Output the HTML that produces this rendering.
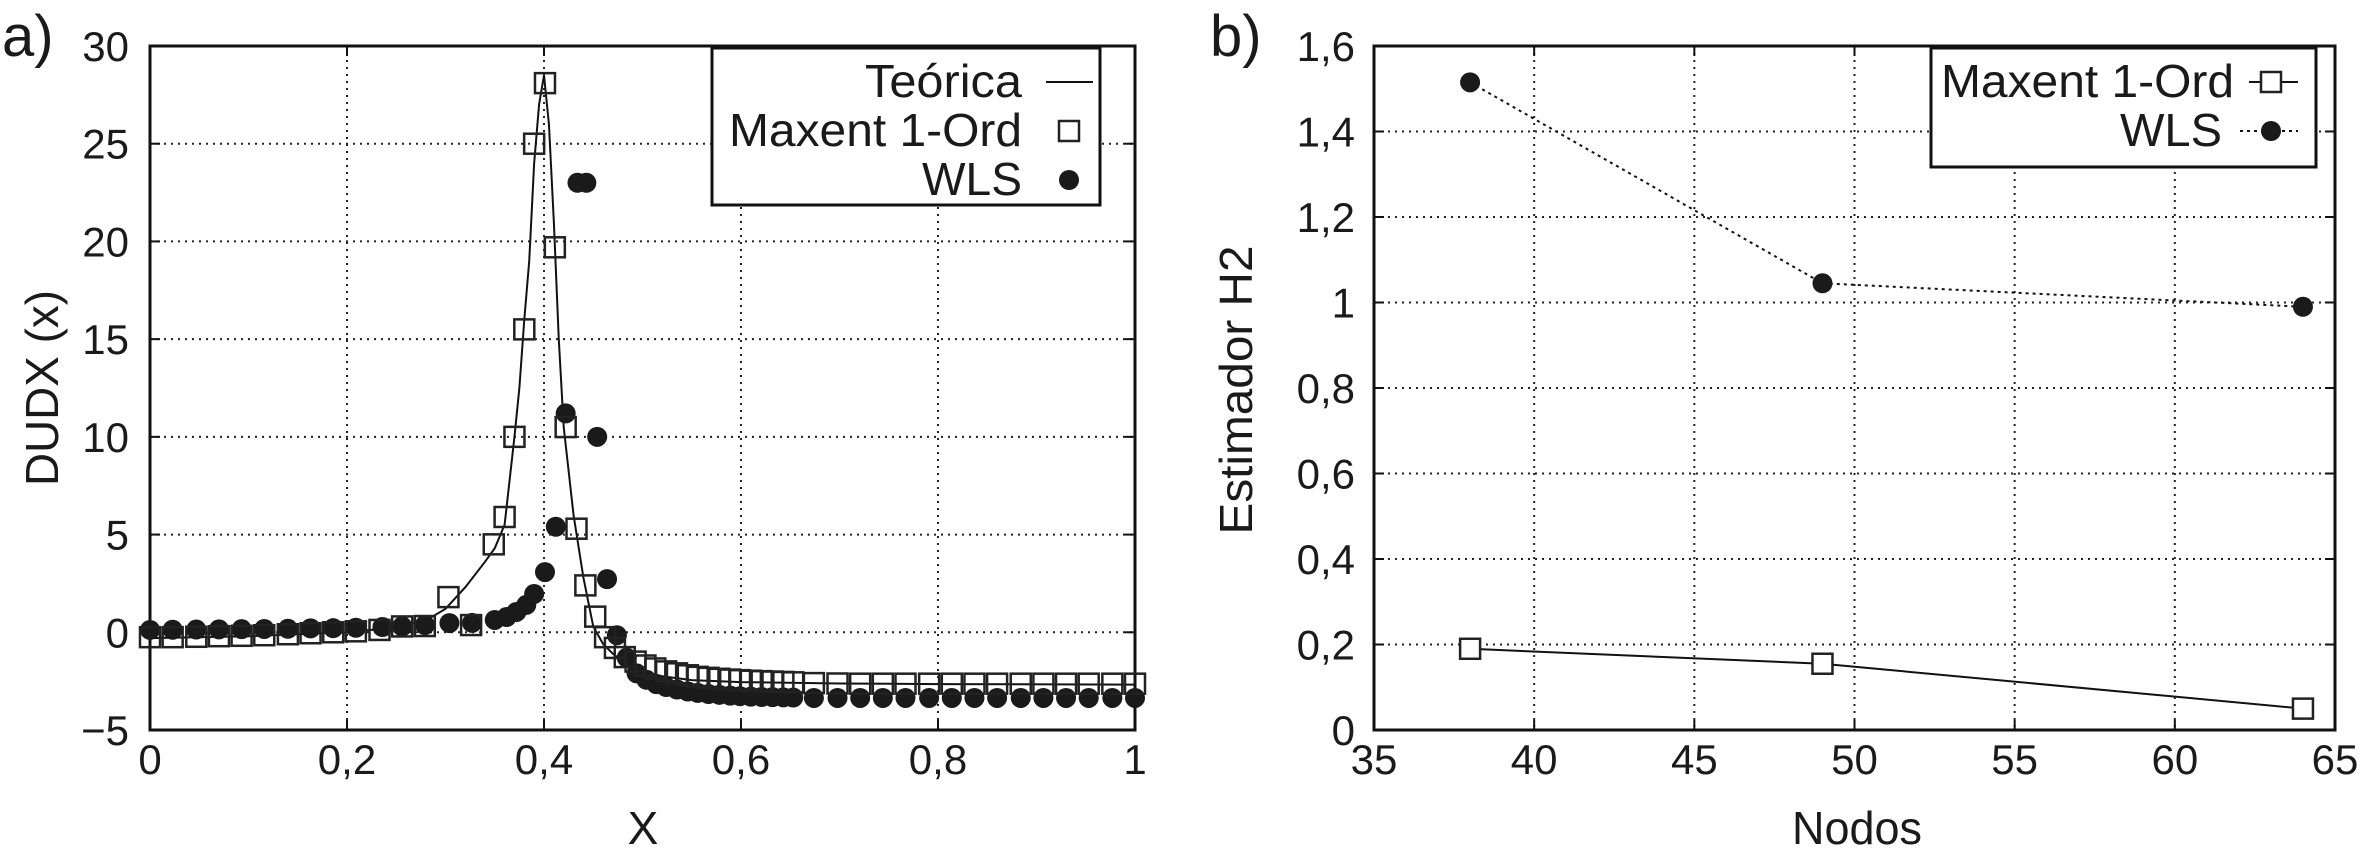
<!DOCTYPE html>
<html><head><meta charset="utf-8"><style>
html,body{margin:0;padding:0;background:#fff;}
svg{display:block;font-family:"Liberation Sans",sans-serif;}
</style></head><body>
<svg id="fig" width="2361" height="854" viewBox="0 0 2361 854" xmlns="http://www.w3.org/2000/svg"></svg>
<script>
// ---------- Chart a data ----------
const aXTicks = [0, 0.2, 0.4, 0.6, 0.8, 1];
const aXTickLabels = ["0", "0,2", "0,4", "0,6", "0,8", "1"];
const aYTicks = [-5, 0, 5, 10, 15, 20, 25, 30];
const aYTickLabels = ["\u22125", "0", "5", "10", "15", "20", "25", "30"];
const theoX = [0, 0.1, 0.2, 0.25, 0.28, 0.3, 0.32, 0.34, 0.35, 0.36, 0.37, 0.375, 0.38, 0.385, 0.39, 0.395, 0.4, 0.405, 0.41, 0.415, 0.42, 0.43, 0.44, 0.45, 0.46, 0.47, 0.48, 0.5, 0.52, 0.55, 0.6, 0.7, 0.8, 1.0];
const theoY = [-0.3, -0.2, 0.0, 0.25, 0.6, 1.2, 2.3, 3.6, 4.3, 5.5, 10, 12.5, 16, 19, 24, 27, 28.5, 26, 21, 15, 10.5, 6, 2.8, 0.3, -0.6, -1.1, -1.5, -2.0, -2.25, -2.45, -2.55, -2.62, -2.65, -2.68];
const maxX = [0, .023, .047, .070, .093, .116, .140, .163, .186, .209, .233, .256, .279, .303, .326, .349, .360, .370, .380, .390, .401, .411, .422, .433, .442, .452, .462, .472, .482, .493, .503, .513, .524, .535, .546, .556, .567, .578, .589, .599, .610, .621, .632, .643, .653, .674, .698, .721, .744, .767, .791, .814, .837, .860, .884, .907, .930, .953, .977, 1.0];
const maxY = [-.25, -.25, -.23, -.2, -.18, -.15, -.1, -.05, 0, .05, .12, .3, .32, 1.8, .37, 4.5, 5.9, 10, 15.5, 25, 28.1, 19.7, 10.5, 5.3, 2.4, .8, -.25, -.8, -1.27, -1.5, -1.7, -1.85, -2.0, -2.1, -2.2, -2.28, -2.33, -2.38, -2.42, -2.45, -2.48, -2.5, -2.52, -2.54, -2.56, -2.6, -2.62, -2.63, -2.63, -2.63, -2.63, -2.63, -2.63, -2.63, -2.63, -2.63, -2.63, -2.63, -2.63, -2.63];
const wlsX = [0, .023, .047, .070, .093, .116, .140, .163, .186, .209, .236, .256, .279, .304, .327, .350, .362, .372, .382, .390, .401, .412, .422, .434, .443, .454, .464, .474, .484, .494, .504, .514, .524, .535, .546, .556, .567, .578, .589, .599, .610, .621, .632, .643, .653, .674, .698, .721, .744, .767, .791, .814, .837, .860, .884, .907, .930, .953, .977, 1.0];
const wlsY = [.12, .13, .14, .15, .16, .17, .18, .2, .21, .23, .27, .3, .37, .47, .48, .63, .78, 1.04, 1.4, 1.96, 3.08, 5.4, 11.2, 23, 23, 10, 2.72, -.15, -1.3, -2.1, -2.43, -2.65, -2.8, -2.93, -3.03, -3.1, -3.16, -3.2, -3.24, -3.27, -3.29, -3.31, -3.32, -3.33, -3.34, -3.36, -3.36, -3.36, -3.36, -3.36, -3.36, -3.36, -3.36, -3.36, -3.36, -3.36, -3.36, -3.36, -3.36, -3.36];
// ---------- Chart b data ----------
const bXTicks = [35, 40, 45, 50, 55, 60, 65];
const bXTickLabels = ["35", "40", "45", "50", "55", "60", "65"];
const bYTicks = [0, 0.2, 0.4, 0.6, 0.8, 1, 1.2, 1.4, 1.6];
const bYTickLabels = ["0", "0,2", "0,4", "0,6", "0,8", "1", "1,2", "1,4", "1,6"];
const nodos = [38, 49, 64];
const bMaxent = [0.19, 0.155, 0.05];
const bWls = [1.515, 1.045, 0.99];

const NS = "http://www.w3.org/2000/svg";
const svg = document.getElementById("fig");
function mk(tag, attrs, parent) {
  const e = document.createElementNS(NS, tag);
  for (const k in attrs) e.setAttribute(k, attrs[k]);
  (parent || svg).appendChild(e);
  return e;
}
function txt(s, x, y, size, anchor, parent, len) {
  const t = mk("text", {x: x, y: y, "font-size": size, "text-anchor": anchor || "start", fill: "#1a1a1a"}, parent);
  if (len) { t.setAttribute("textLength", len); t.setAttribute("lengthAdjust", "spacingAndGlyphs"); }
  t.textContent = s;
  return t;
}
function axes(L, R, T, B, xmin, xmax, ymin, ymax) {
  return {
    sx: v => L + (v - xmin) / (xmax - xmin) * (R - L),
    sy: v => B - (v - ymin) / (ymax - ymin) * (B - T)
  };
}
function frame(g, L, R, T, B, xt, xl, yt, yl, ax, yLabelRight) {
  xt.forEach((v, i) => {
    const x = ax.sx(v);
    if (i > 0 && i < xt.length - 1) {
      const gl = mk("line", {x1: x, x2: x, y1: T, y2: B, stroke: "#222", "stroke-width": 2, "stroke-dasharray": "2 5"}, g);
      
      
    }
    mk("line", {x1: x, x2: x, y1: B, y2: B - 10, stroke: "#111", "stroke-width": 2}, g);
    mk("line", {x1: x, x2: x, y1: T, y2: T + 10, stroke: "#111", "stroke-width": 2}, g);
    const t = txt(xl[i], x, 774, 42, "middle", g);
    
    
  });
  yt.forEach((v, i) => {
    const y = ax.sy(v);
    if (i > 0 && i < yt.length - 1) {
      const gl = mk("line", {x1: L, x2: R, y1: y, y2: y, stroke: "#222", "stroke-width": 2, "stroke-dasharray": "2 5"}, g);
      
      
    }
    mk("line", {x1: L, x2: L + 10, y1: y, y2: y, stroke: "#111", "stroke-width": 2}, g);
    mk("line", {x1: R, x2: R - 10, y1: y, y2: y, stroke: "#111", "stroke-width": 2}, g);
    const t = txt(yl[i], yLabelRight, y + 15, 42, "end", g);
    
    
  });
  const f = mk("rect", {x: L, y: T, width: R - L, height: B - T, fill: "none", stroke: "#111", "stroke-width": 3}, g);
  
  
}
function square(g, x, y) {
  return mk("rect", {x: x - 10, y: y - 10, width: 20, height: 20, fill: "none", stroke: "#222", "stroke-width": 2.5}, g);
}
function dot(g, x, y) {
  return mk("circle", {cx: x, cy: y, r: 10, fill: "#1a1a1a"}, g);
}

// ================= Chart a =================
const gA = mk("g", { });
const aL = 150, aR = 1135, aT = 46, aB = 730;
const A = axes(aL, aR, aT, aB, 0, 1, -5, 30);
frame(gA, aL, aR, aT, aB, aXTicks, aXTickLabels, aYTicks, aYTickLabels, A, 129);
const pa = txt("a)", 2, 56, 58, "start", gA);


const axa = txt("X", 643, 844, 46, "middle", gA);


const aya = txt("DUDX (x)", 0, 0, 46, "middle", gA, 196);
aya.setAttribute("transform", "translate(58,388) rotate(-90)");



const theoPts = theoX.map((v, i) => A.sx(v) + "," + A.sy(theoY[i])).join(" ");
const theo = mk("polyline", {points: theoPts, fill: "none", stroke: "#111", "stroke-width": 2}, gA);


wlsX.forEach((v, i) => {
  const c = dot(gA, A.sx(v), A.sy(wlsY[i]));
  
  
});
maxX.forEach((v, i) => {
  const s = square(gA, A.sx(v), A.sy(maxY[i]));
  
  
});
// legend a
const legA = mk("g", { }, gA);
mk("rect", {x: 712, y: 48, width: 388, height: 157, fill: "#fff", stroke: "#111", "stroke-width": 3}, legA);
const la1 = txt("Teórica", 1022, 97, 46, "end", legA, 157);


mk("line", {x1: 1046, x2: 1093, y1: 82, y2: 82, stroke: "#111", "stroke-width": 2}, legA);
const la2 = txt("Maxent 1-Ord", 1022, 146, 46, "end", legA, 293);


square(legA, 1069, 131);
const la3 = txt("WLS", 1022, 195, 46, "end", legA, 100);


dot(legA, 1069, 180);

// ================= Chart b =================
const gB = mk("g", { });
const bL = 1374, bR = 2335, bT = 46, bB = 730;
const Bx = axes(bL, bR, bT, bB, 35, 65, 0, 1.6);
frame(gB, bL, bR, bT, bB, bXTicks, bXTickLabels, bYTicks, bYTickLabels, Bx, 1355);
const pb = txt("b)", 1210, 56, 58, "start", gB);


const bxa = txt("Nodos", 1857, 844, 46, "middle", gB, 130);


const bya = txt("Estimador H2", 0, 0, 46, "middle", gB, 289);
bya.setAttribute("transform", "translate(1252,390) rotate(-90)");



const mLine = mk("polyline", {points: nodos.map((n, i) => Bx.sx(n) + "," + Bx.sy(bMaxent[i])).join(" "), fill: "none", stroke: "#111", "stroke-width": 2}, gB);


const wLine = mk("polyline", {points: nodos.map((n, i) => Bx.sx(n) + "," + Bx.sy(bWls[i])).join(" "), fill: "none", stroke: "#111", "stroke-width": 2, "stroke-dasharray": "3 4"}, gB);


nodos.forEach((n, i) => {
  const s = square(gB, Bx.sx(n), Bx.sy(bMaxent[i]));
  s.setAttribute("fill", "#fff");
  
  
  const c = dot(gB, Bx.sx(n), Bx.sy(bWls[i]));
  
  
});
// legend b
const legB = mk("g", { }, gB);
mk("rect", {x: 1931, y: 48, width: 385, height: 119, fill: "#fff", stroke: "#111", "stroke-width": 3}, legB);
const lb1 = txt("Maxent 1-Ord", 2234, 97, 46, "end", legB, 293);


mk("line", {x1: 2249, x2: 2298, y1: 82, y2: 82, stroke: "#111", "stroke-width": 2}, legB);
square(legB, 2271, 82).setAttribute("fill", "#fff");
const lb2 = txt("WLS", 2222, 146, 46, "end", legB, 102);


mk("line", {x1: 2240, x2: 2298, y1: 131, y2: 131, stroke: "#111", "stroke-width": 2, "stroke-dasharray": "3 4"}, legB);
dot(legB, 2271, 131);
</script>
</body></html>
